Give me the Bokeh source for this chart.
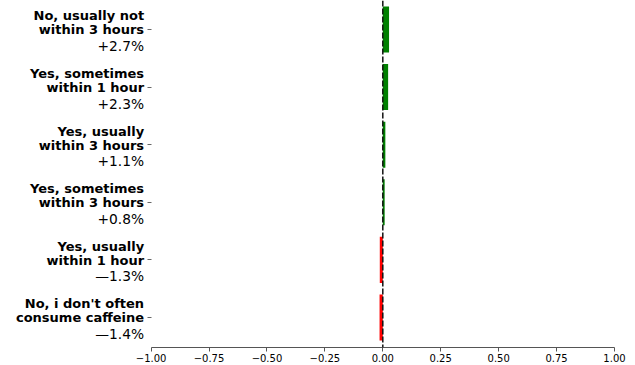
from bokeh.plotting import figure
from bokeh.models import Range1d, FixedTicker, Span, ColumnDataSource
from bokeh.core.properties import value
from bokeh.embed import file_html
from bokeh.resources import INLINE

# Data (bottom to top)
line1 = ["No, i don't often", "Yes, usually", "Yes, sometimes", "Yes, usually", "Yes, sometimes", "No, usually not"]
line2 = ["consume caffeine", "within 1 hour", "within 3 hours", "within 3 hours", "within 1 hour", "within 3 hours"]
pct_labels = ["—1.4%", "—1.3%", "+0.8%", "+1.1%", "+2.3%", "+2.7%"]
values = [-0.014, -0.013, 0.008, 0.011, 0.023, 0.027]
positions = [0, 1, 2, 3, 4, 5]
x_ticks = [-1.0, -0.75, -0.5, -0.25, 0.0, 0.25, 0.5, 0.75, 1.0]
x_tick_labels = ["−1.00", "−0.75", "−0.50", "−0.25", "0.00", "0.25", "0.50", "0.75", "1.00"]

colors = ["#008000" if v > 0 else "#ff0000" for v in values]
src = ColumnDataSource(dict(y=positions, right=values, color=colors,
                            l1=line1, l2=line2, l3=pct_labels, xl=[-1.0] * len(positions)))

p = figure(frame_width=614, frame_height=347,
           x_range=Range1d(-1.650, 1.0), y_range=Range1d(-0.521, 5.503),
           output_backend="svg", toolbar_location=None,
           min_border_left=8, min_border_right=12, min_border_top=8, min_border_bottom=0)
p.styles = {"margin-top": "-8px", "margin-left": "-8px", "margin-bottom": "-8px"}
p.outline_line_color = None
p.xgrid.visible = False
p.ygrid.visible = False

p.hbar(y="y", left=0, right="right", height=0.8, fill_color="color", line_color=None, source=src)
p.add_layout(Span(location=0, dimension="height", line_color="#111111", line_width=1.5, line_dash="6 2"))

common = dict(x="xl", y="y", x_offset=-7, text_align="right", text_baseline="alphabetic",
              text_font=value("DejaVu Sans"), text_color="#000000", source=src)
p.text(text="l1", y_offset=-13.5, text_font_style="bold", text_font_size="13px", **common)
p.text(text="l2", y_offset=0.5, text_font_style="bold", text_font_size="13px", **common)
p.text(text="l3", y_offset=16.5, text_font_style="normal", text_font_size="13.8px", **common)

xa = p.xaxis[0]
xa.ticker = FixedTicker(ticks=x_ticks)
xa.bounds = (-1, 1)
xa.major_label_overrides = {t: l for t, l in zip(x_ticks, x_tick_labels)}
xa.major_label_text_font = "DejaVu Sans"
xa.major_label_text_font_size = "10px"
xa.major_label_text_color = "#000000"
xa.major_label_standoff = 2
xa.major_tick_out = 4
xa.major_tick_in = 0
xa.minor_tick_line_color = None
xa.axis_line_color = "#555555"
xa.major_tick_line_color = "#555555"

ya = p.yaxis[0]
ya.fixed_location = -1.0
ya.ticker = FixedTicker(ticks=positions)
ya.major_label_overrides = {t: "" for t in positions}
ya.major_label_standoff = 0
ya.axis_line_color = None
ya.major_tick_out = 4
ya.major_tick_in = 0
ya.minor_tick_line_color = None
ya.major_tick_line_color = "#666666"

open("out.html", "w").write(file_html(p, INLINE))
